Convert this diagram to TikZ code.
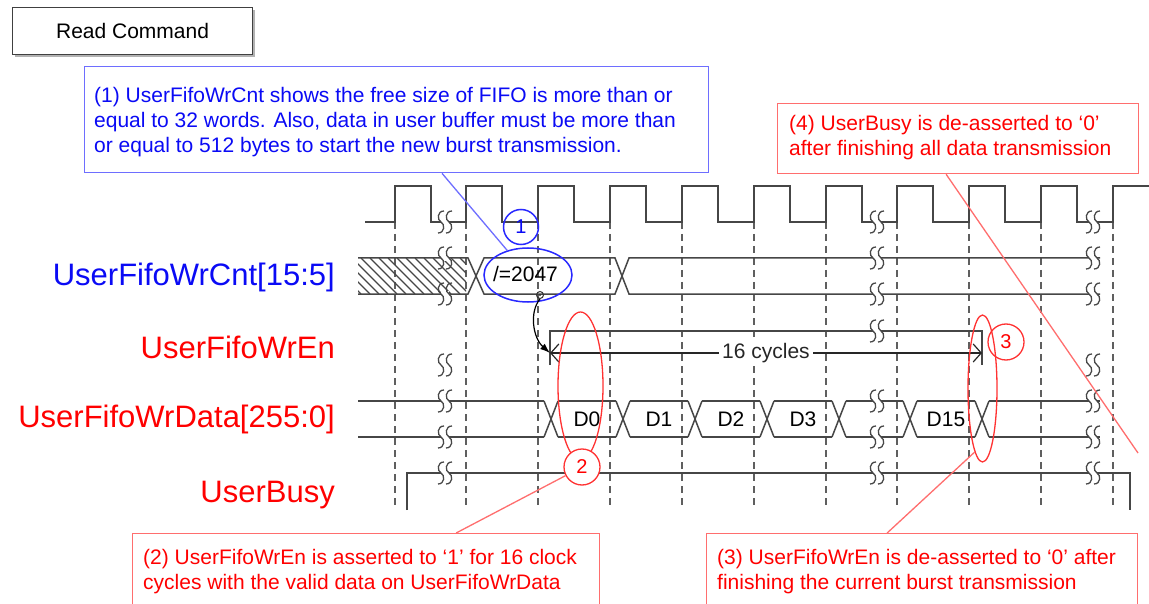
\documentclass[tikz,border=0pt]{standalone}
\usepackage{fontspec}
\setmainfont{Liberation Sans}
\usetikzlibrary{arrows.meta,shapes.geometric,calc,shadows}
\definecolor{sigc}{RGB}{70,70,70}
\definecolor{dashc}{RGB}{95,95,95}
\definecolor{bluT}{RGB}{10,10,245}
\definecolor{bluB}{RGB}{110,110,255}
\definecolor{bluE}{RGB}{40,40,255}
\definecolor{redT}{RGB}{255,0,0}
\definecolor{redB}{RGB}{255,110,110}
\definecolor{redE}{RGB}{255,50,50}
\begin{document}
\begin{tikzpicture}[x=1pt,y=-1pt,
  sig/.style={draw=sigc,line width=1.5pt,line join=miter},
  gridl/.style={draw=dashc,line width=1.3pt,dash pattern=on 7pt off 5pt},
  lbl/.style={font=\fontsize{31}{36}\selectfont,inner sep=0pt,anchor=base east},
  small/.style={font=\fontsize{21}{25}\selectfont},
  note/.style={font=\fontsize{21}{25}\selectfont,inner sep=0pt,anchor=base west,align=left},
  bbox/.style={draw=bluB,line width=1.3pt,rectangle,inner sep=0pt,anchor=north west},
  rbox/.style={draw=redB,line width=1.3pt,rectangle,inner sep=0pt,anchor=north west},
  brk/.pic={
    \fill[white] (-4,-3.5) rectangle (4,3.5);
    \draw[sigc,line width=1.3pt] (-1,-11) .. controls (-8,-11) and (-8,-2) .. (-4,0) .. controls (0,2) and (0,11) .. (-7,11);
    \draw[sigc,line width=1.3pt] (7,-11) .. controls (0,-11) and (0,-2) .. (4,0) .. controls (8,2) and (8,11) .. (1,11);
  }]
\useasboundingbox (0,0) rectangle (1149,604);
\fill[white] (0,0) rectangle (1149,604);
\begin{scope}
\clip (0,0) rectangle (1149,604);

% Read Command
\node[draw=black!75,line width=1.2pt,fill=white,minimum width=240pt,minimum height=47pt,
      anchor=north west,inner sep=0pt,small,
      drop shadow={shadow xshift=2pt,shadow yshift=-2pt,fill=black!30,opacity=1}] (rc) at (12,7) {Read Command};

% dashed clock grid
\foreach \x in {395,466,538,610,682,754,826,897,969,1041,1113}
  \draw[gridl] (\x,222) -- (\x,506);

% clock
\draw[sig] (365,222) -- (395,222) |- (431,186) |- (466,222) |- (502,186) |- (538,222)
  |- (574,186) |- (610,222) |- (646,186) |- (682,222) |- (718,186) |- (754,222)
  |- (790,186) |- (826,222) |- (862,186) |- (897,222) |- (933,186) |- (969,222)
  |- (1005,186) |- (1041,222) |- (1077,186) |- (1113,222) |- (1149,186);

% UserFifoWrCnt
\begin{scope}
  \clip (358,258) rectangle (466,294);
  \foreach \x in {316,325,...,466}
    \draw[sigc,line width=1.1pt] (\x,258) -- (\x+36,294);
\end{scope}
\draw[sig] (358,258) -- (468,258) -- (484,294) -- (615,294) -- (629,258) -- (1100,258);
\draw[sig] (358,294) -- (468,294) -- (484,258) -- (615,258) -- (629,294) -- (1100,294);

% UserFifoWrEn
\coordinate (en0) at (550,353);
\coordinate (en1) at (982,353);
\draw[sig] (550,365) -- (550,331) -- (982,331) -- (982,365);

% UserFifoWrData
\draw[sig] (358,401) -- (544,401);
\draw[sig] (358,437) -- (544,437);
\foreach \a/\b in {551/623,623/695,695/767,767/839,839/910,910/982}{
  \draw[sig] (\a+7,401) -- (\b-7,401);
  \draw[sig] (\a+7,437) -- (\b-7,437);
}
\foreach \c in {551,623,695,767,839,910,982}{
  \draw[sig] (\c-7,401) -- (\c+7,437);
  \draw[sig] (\c-7,437) -- (\c+7,401);
}
\draw[sig] (989,401) -- (1100,401);
\draw[sig] (989,437) -- (1100,437);
\node[small,anchor=base] (d0) at (587,426) {D0};
\node[small,anchor=base] (d1) at (659,426) {D1};
\node[small,anchor=base] (d2) at (731,426) {D2};
\node[small,anchor=base] (d3) at (803,426) {D3};
\node[small,anchor=base] (d15) at (946,426) {D15};

% UserBusy
\draw[sig] (407,510) -- (407,473) -- (1130,473) -- (1130,510);

% breaks
\foreach \x in {445,877,1093}{
  \pic at (\x,222) {brk};
  \pic at (\x,258) {brk};
  \pic at (\x,294) {brk};
  \pic at (\x,401) {brk};
  \pic at (\x,437) {brk};
  \pic at (\x,473) {brk};
}
\pic at (445,365) {brk};
\pic at (877,331) {brk};
\pic at (1093,365) {brk};

% signal names
\node[lbl,text=bluT] (ncnt) at (335,285) {UserFifoWrCnt[15:5]};
\node[lbl,text=redT] (nen) at (335,358) {UserFifoWrEn};
\node[lbl,text=redT] (ndat) at (335,427) {UserFifoWrData[255:0]};
\node[lbl,text=redT] (nbusy) at (335,502) {UserBusy};

% value and cycle count
\node[small,anchor=base,inner sep=0pt] (val) at (525.5,281.7) {/=2047};
\draw[black!85,line width=1.2pt,{Straight Barb[length=8pt,width=18pt]}-{Straight Barb[length=8pt,width=18pt]}]
  (en0) -- node[small,fill=white,inner sep=3pt] (cyc) {16 cycles} (en1);

% marks (1)
\node[ellipse,draw=bluE,line width=1.5pt,minimum width=88pt,minimum height=54pt,inner sep=0pt] (e1) at (528,275) {};
\node[circle,draw=bluE,line width=1.5pt,minimum size=35pt,inner sep=0pt,text=bluT,font=\fontsize{20}{24}\selectfont] (c1) at (521,227) {1};
\node[circle,draw=black!80,line width=1pt,minimum size=7pt,inner sep=0pt] (mk) at (540,295) {};
\fill[black!80] (mk) circle (1.2pt);
\draw[black,line width=1.2pt,-{Latex[length=10pt,width=7pt]}] (mk.south) .. controls (529,312) and (533,338) .. (en0);

% marks (2),(3)
\node[ellipse,draw=redE,line width=1.3pt,minimum width=45pt,minimum height=148pt,inner sep=0pt] (e2) at (580.5,386) {};
\node[circle,draw=redE,line width=1.3pt,fill=white,minimum size=36pt,inner sep=0pt,text=redT,font=\fontsize{20}{24}\selectfont] (c2) at (582,467) {2};
\node[ellipse,draw=redE,line width=1.3pt,minimum width=29pt,minimum height=147pt,inner sep=0pt] (e3) at (982.5,388.5) {};
\node[circle,draw=redE,line width=1.3pt,minimum size=36pt,inner sep=0pt,text=redT,font=\fontsize{20}{24}\selectfont] (c3) at (1006,342) {3};

% callout (1)
\node[bbox,fill=white,minimum width=624pt,minimum height=106pt] (b1) at (84,66) {};
\node[note,text=bluT] (t1) at (94,152.7) {(1) UserFifoWrCnt shows the free size of FIFO is more than or\\equal to 32 words. Also, data in user buffer must be more than\\or equal to 512 bytes to start the new burst transmission.};
\draw[bluB,line width=1.3pt] (b1) -- (e1);

% callout (4)
\node[rbox,fill=white,minimum width=361pt,minimum height=70pt] (b4) at (777,103) {};
\node[note,text=redT] (t4) at (789,156) {(4) UserBusy is de-asserted to ‘0’\\after finishing all data transmission};
\coordinate (l4e) at (1138,453);
\draw[redB,line width=1.3pt] ($(b4.south)+(-12,0)$) -- (l4e);

% callout (2)
\node[rbox,minimum width=467pt,minimum height=90pt] (b2) at (132,533) {};
\node[note,text=redT] (t2) at (143,589) {(2) UserFifoWrEn is asserted to ‘1’ for 16 clock\\cycles with the valid data on UserFifoWrData};
\draw[redB,line width=1.3pt] ($(b2.north)+(90,0)$) -- (c2);

% callout (3)
\node[rbox,minimum width=431pt,minimum height=90pt] (b3) at (706,533) {};
\node[note,text=redT] (t3) at (717,589) {(3) UserFifoWrEn is de-asserted to ‘0’ after\\finishing the current burst transmission};
\draw[redB,line width=1.3pt] ($(b3.north)+(-35,0)$) -- (e3.263);
\end{scope}
\end{tikzpicture}
\end{document}
